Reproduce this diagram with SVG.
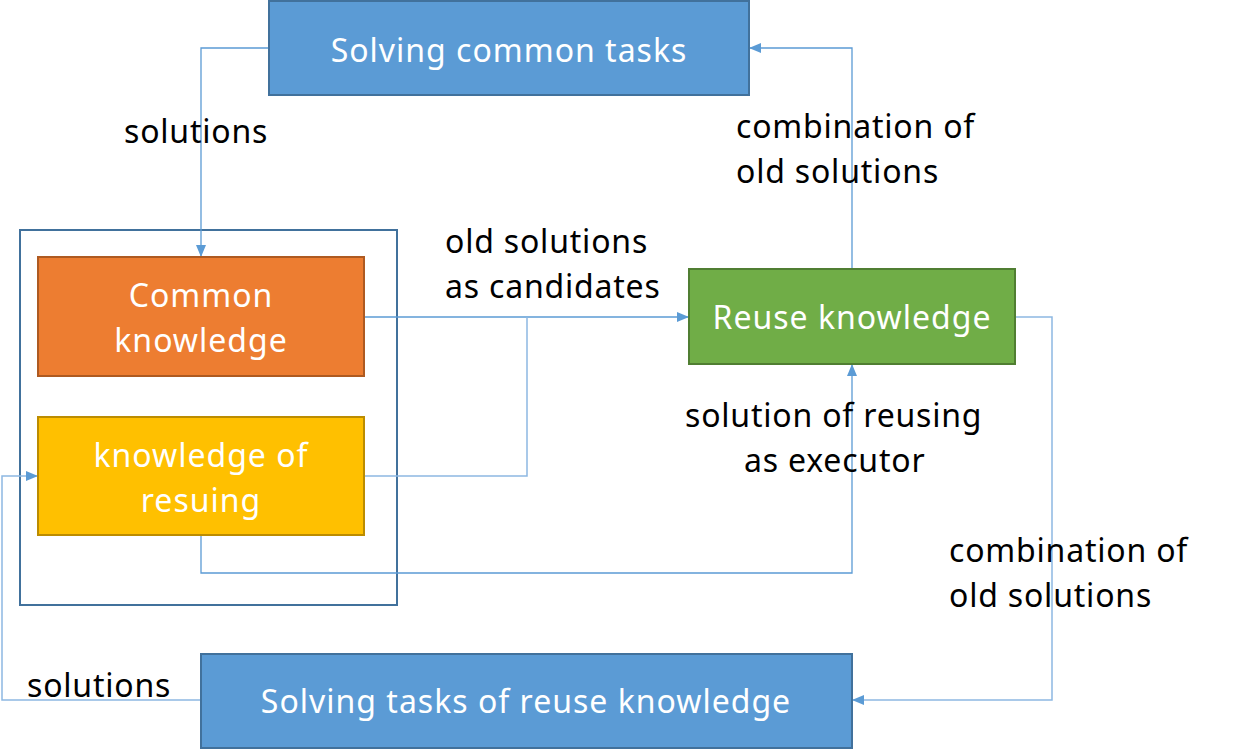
<svg xmlns="http://www.w3.org/2000/svg" width="1245" height="749" viewBox="0 0 1245 749">
<style>
.box{stroke-width:2}
.nt{font-family:"Noto Sans","Open Sans",sans-serif;font-size:32px;letter-spacing:1px;fill:#ffffff;text-anchor:middle}
.lb{font-family:"Noto Sans","Open Sans",sans-serif;font-size:32px;letter-spacing:0.8px;fill:#000000}
.c{fill:none;stroke:#5B9BD5;stroke-width:1.3}
.cl{fill:none;stroke:#8DB8E2;stroke-width:1.5}
</style>
<defs>
<marker id="ah" markerWidth="12" markerHeight="10" refX="11" refY="5" orient="auto" markerUnits="userSpaceOnUse">
<path d="M0,0 L12,5 L0,10 Z" fill="#5B9BD5"/>
</marker>
</defs>
<rect width="1245" height="749" fill="#ffffff"/>
<g id="container">
<rect x="20" y="230" width="377" height="375" fill="none" stroke="#41719C" stroke-width="2"/>
</g>
<g id="connectors">
<polyline class="c" points="269,48 201,48 201,256" marker-end="url(#ah)"/>
<polyline class="c" points="364,317 688,317" marker-end="url(#ah)"/>
<polyline class="cl" points="364,476 527,476 527,317"/>
<polyline class="c" points="201,535 201,573 852,573 852,365" marker-end="url(#ah)"/>
<polyline class="c" points="852,269 852,48 750,48" marker-end="url(#ah)"/>
<polyline class="cl" points="1015,317 1052,317 1052,700 853,700" marker-end="url(#ah)"/>
<polyline class="cl" points="201,700 2,700 2,476 37,476" marker-end="url(#ah)"/>
</g>
<g id="solving-common">
<rect class="box" x="269" y="1" width="480" height="94" fill="#5B9BD5" stroke="#41719C"/>
<text class="nt" x="509" y="62">Solving common tasks</text>
</g>
<g id="common-knowledge">
<rect class="box" x="38" y="257" width="326" height="119" fill="#ED7D31" stroke="#AE5A21"/>
<text class="nt" x="201" y="307">Common</text>
<text class="nt" x="201" y="352">knowledge</text>
</g>
<g id="knowledge-reusing">
<rect class="box" x="38" y="417" width="326" height="118" fill="#FFC000" stroke="#BC8C00"/>
<text class="nt" x="201" y="467">knowledge of</text>
<text class="nt" x="201" y="512">resuing</text>
</g>
<g id="reuse-knowledge">
<rect class="box" x="689" y="269" width="326" height="95" fill="#70AD47" stroke="#507E32"/>
<text class="nt" x="852" y="329">Reuse knowledge</text>
</g>
<g id="solving-reuse">
<rect class="box" x="201" y="654" width="651" height="94" fill="#5B9BD5" stroke="#41719C"/>
<text class="nt" x="526" y="713">Solving tasks of reuse knowledge</text>
</g>
<g id="labels">
<text class="lb" x="124" y="143">solutions</text>
<text class="lb" x="736" y="138">combination of</text>
<text class="lb" x="736" y="183">old solutions</text>
<text class="lb" x="445" y="253">old solutions</text>
<text class="lb" x="445" y="298">as candidates</text>
<text class="lb" x="685" y="427">solution of reusing</text>
<text class="lb" x="744" y="472">as executor</text>
<text class="lb" x="949" y="562">combination of</text>
<text class="lb" x="949" y="607">old solutions</text>
<text class="lb" x="27" y="697">solutions</text>
</g>
</svg>
